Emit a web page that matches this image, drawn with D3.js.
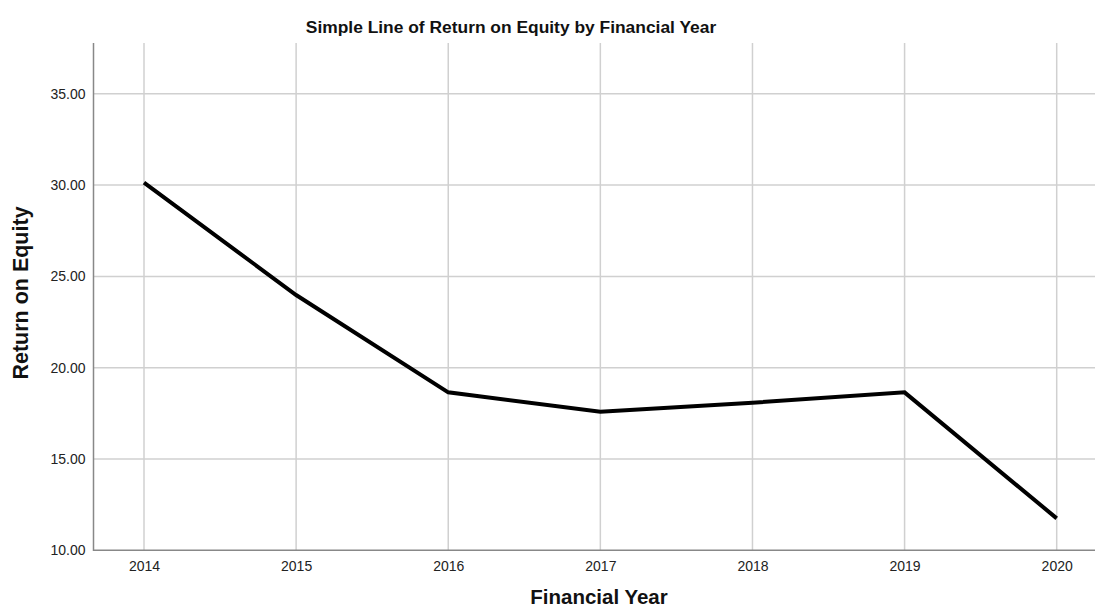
<!DOCTYPE html>
<html><head><meta charset="utf-8">
<script src="https://cdn.jsdelivr.net/npm/d3@7"></script>
<style>body{margin:0;background:#fff;}svg{display:block;font-family:Arial,"Liberation Sans",sans-serif;}</style>
</head><body>
<script>
const years = [2014, 2015, 2016, 2017, 2018, 2019, 2020];
const roe = [30.13, 23.98, 18.65, 17.59, 18.08, 18.65, 11.75];
const yTicks = [10, 15, 20, 25, 30, 35];
const title = "Simple Line of Return on Equity by Financial Year";
const xTitle = "Financial Year";
const yTitle = "Return on Equity";

(function(){
const W = 1095, H = 613;
const pLeft = 93.5, pTop = 43, pBottom = 550.3;
const svg = d3.select("body").append("svg").attr("width", W).attr("height", H);

const x = d3.scaleLinear().domain([2014, 2020]).range([144, 1056.7]);
const y = d3.scaleLinear().domain([10, 37.78]).range([pBottom, pTop]);
const xLeft = x.invert(pLeft), xRight = 2020 + (2014 - xLeft);
const pRight = x(xRight);

svg.append("clipPath").attr("id","c").append("rect").attr("x",pLeft).attr("y",pTop).attr("width",W-pLeft).attr("height",pBottom-pTop);
const g = svg.append("g").attr("clip-path","url(#c)");

g.selectAll(".hg").data(yTicks.filter(d=>d>10)).join("line")
  .attr("x1", pLeft).attr("x2", pRight).attr("y1", d=>y(d)).attr("y2", d=>y(d))
  .attr("stroke","#d0d0d0").attr("stroke-width",1.5);
g.selectAll(".vg").data(years).join("line")
  .attr("x1", d=>x(d)).attr("x2", d=>x(d)).attr("y1", pTop).attr("y2", pBottom)
  .attr("stroke","#d0d0d0").attr("stroke-width",1.5);

const yAxis = d3.axisLeft(y).tickValues(yTicks).tickFormat(d3.format(".2f")).tickSize(0).tickPadding(8);
const ya = svg.append("g").attr("transform",`translate(${pLeft},0)`).call(yAxis);
ya.select(".domain").remove();
ya.selectAll("text").attr("font-size",14).attr("fill","#222").attr("font-family","Arial, 'Liberation Sans', sans-serif");

const xAxis = d3.axisBottom(x).tickValues(years).tickFormat(d3.format("d")).tickSize(0).tickPadding(11);
const xa = svg.append("g").attr("transform",`translate(0,${pBottom})`).call(xAxis);
xa.select(".domain").remove();
xa.selectAll("text").attr("font-size",14).attr("fill","#222").attr("font-family","Arial, 'Liberation Sans', sans-serif");

svg.append("line").attr("x1",pLeft).attr("x2",pLeft).attr("y1",pTop).attr("y2",pBottom+0.7).attr("stroke","#888").attr("stroke-width",1.5);
svg.append("line").attr("x1",pLeft).attr("x2",W).attr("y1",pBottom).attr("y2",pBottom).attr("stroke","#888").attr("stroke-width",1.5);

const line = d3.line().x((d,i)=>x(years[i])).y(d=>y(d));
g.append("path").datum(roe).attr("d", line).attr("fill","none").attr("stroke","#000").attr("stroke-width",4).attr("stroke-linejoin","miter");

svg.append("text").attr("x",511).attr("y",33).attr("text-anchor","middle").attr("font-size",17.4).attr("font-weight","bold").attr("fill","#111").text(title);
svg.append("text").attr("x",599).attr("y",604).attr("text-anchor","middle").attr("font-size",20.5).attr("font-weight","bold").attr("fill","#111").text(xTitle);
svg.append("text").attr("transform",`translate(28,293) rotate(-90)`).attr("text-anchor","middle").attr("font-size",21.5).attr("font-weight","bold").attr("fill","#111").text(yTitle);
})();
</script>
</body></html>
